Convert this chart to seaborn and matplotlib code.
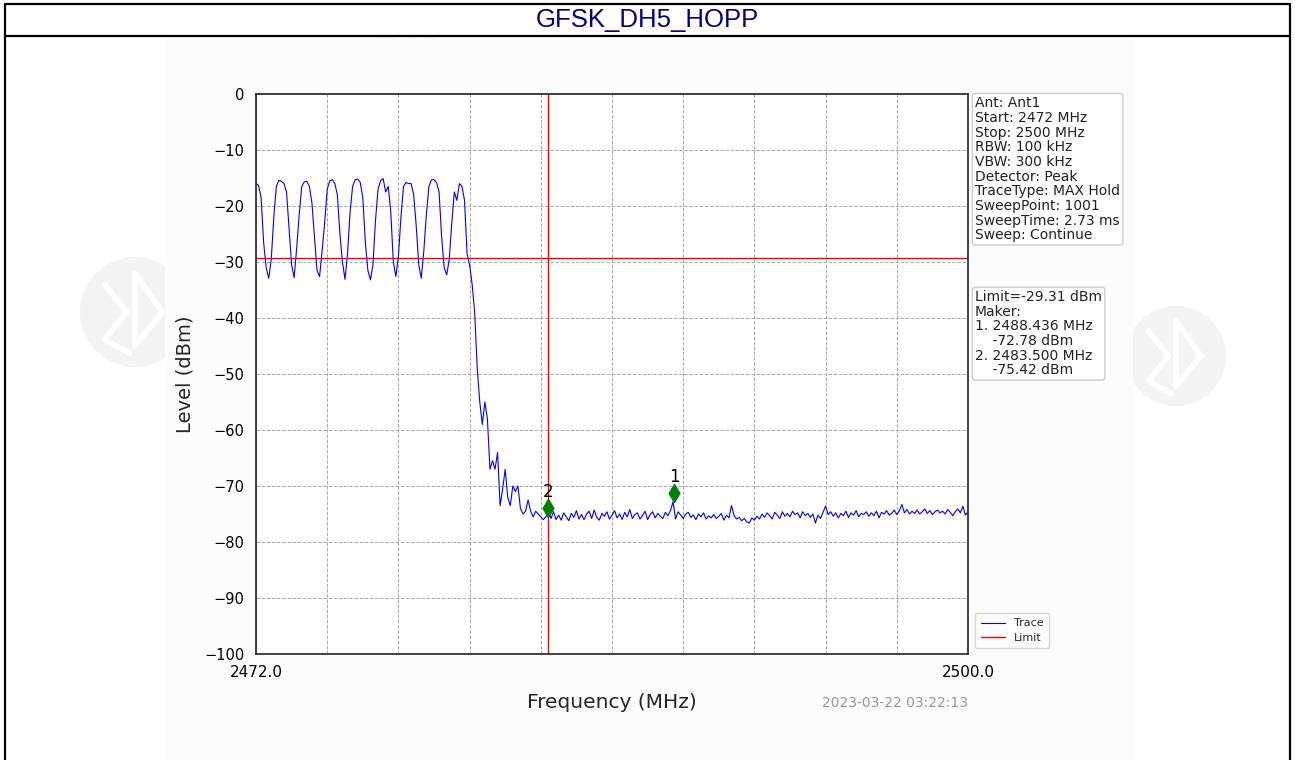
import numpy as np
import pandas as pd
import matplotlib
matplotlib.use('Agg')
import matplotlib.pyplot as plt
import seaborn as sns
from matplotlib.patches import Rectangle, Ellipse
from matplotlib.lines import Line2D

# sweep settings (from the info box)
START, STOP = 2472.0, 2500.0

# trace level (dBm), every 0.1 MHz
level = [
    # 2472.0 - 2480.2 : hopping channels
    -16.0, -16.3, -18.5, -26.5, -31.0, -32.9, -29.5, -22.0, -16.5, -15.4,
    -15.6, -16.0, -17.5, -24.0, -30.5, -32.8, -27.5, -21.5, -16.5, -15.7,
    -15.6, -16.5, -19.5, -25.5, -31.5, -32.6, -28.0, -23.0, -17.0, -15.5,
    -15.3, -16.0, -18.0, -25.0, -30.0, -33.1, -28.5, -21.0, -16.5, -15.3,
    -15.2, -15.8, -18.5, -26.5, -31.5, -33.2, -30.5, -22.5, -17.0, -15.5,
    -15.1, -17.5, -16.5, -21.0, -30.0, -32.6, -29.0, -22.0, -16.5, -15.8,
    -16.0, -16.0, -18.0, -23.5, -30.5, -32.9, -28.0, -21.5, -16.5, -15.3,
    -15.3, -15.8, -17.5, -25.5, -31.0, -32.3, -29.5, -23.0, -17.5, -19.0,
    -16.0, -16.5, -19.0,
    # 2480.3 - 2483.5 : band edge roll-off
    -28.5, -30.5, -34.0, -39.0, -49.0, -55.0, -59.0,
    -55.0, -58.0, -67.0, -65.5, -67.0, -64.0, -73.5, -70.5, -67.0, -72.0,
    -73.5, -70.0, -71.0, -70.0, -74.0, -75.0, -74.5, -72.5, -74.5, -75.5,
    -74.5, -75.0, -75.5, -76.0, -75.5, -74.5,
    # 2483.6 - 2500.0 : noise floor
    -75.8, -74.6, -76.0, -75.2,
    -76.1, -74.8, -75.5, -76.2, -74.9, -75.6, -74.4, -75.9, -75.1, -76.0,
    -75.0, -74.5, -75.8, -74.3, -75.6, -76.1, -74.9, -75.4, -74.6, -75.9,
    -75.2, -74.4, -75.7, -75.0, -76.0, -74.7, -75.5, -74.2, -75.8, -75.1,
    -74.8, -75.9, -75.3, -74.5, -76.0, -75.1, -74.6, -75.7, -74.9, -75.4,
    -75.8, -74.7, -75.3, -74.4, -72.8, -75.9, -74.6, -75.2, -75.8, -75.0,
    -74.7, -75.6, -75.2, -76.0, -75.0, -75.5, -74.8, -75.9, -75.3, -75.7,
    -75.1, -75.8, -75.4, -74.9, -76.1, -75.2, -75.7, -73.5, -75.3, -75.9,
    -75.6, -76.2, -75.8, -76.4, -76.6, -75.7, -76.1, -75.4, -75.9, -75.0,
    -75.6, -74.8, -75.3, -75.9, -74.7, -75.2, -75.8, -74.6, -75.4, -74.9,
    -75.5, -74.5, -75.1, -74.8, -75.7, -74.6, -75.3, -74.9, -75.6, -75.0,
    -76.6, -75.2, -75.8, -74.7, -73.6, -75.1, -74.6, -75.4, -74.8, -75.7,
    -74.9, -75.3, -74.5, -75.6, -74.8, -75.2, -74.4, -75.5, -74.9, -75.1,
    -74.6, -75.4, -74.8, -75.3, -74.5, -75.7, -74.7, -75.0, -74.4, -75.2,
    -74.9, -74.3, -75.1, -74.4, -73.3, -74.8, -74.2, -75.0, -74.5, -74.9,
    -74.3, -75.0, -74.6, -74.1, -74.9, -74.4, -75.1, -74.6, -74.3, -74.8,
    -74.5, -75.0, -74.2, -74.7, -75.3, -74.6, -74.1, -74.8, -73.6, -75.2,
    -74.6,
]
freq = np.linspace(START, STOP, len(level))

limit = -29.31
limit_freq = 2483.5

# markers, drawn where they sit on the picture
marker_name = ['1', '2']
marker_freq = [2488.436, 2483.500]
marker_level = [-71.2, -73.9]

info_text = ("Ant: Ant1\nStart: 2472 MHz\nStop: 2500 MHz\nRBW: 100 kHz\n"
             "VBW: 300 kHz\nDetector: Peak\nTraceType: MAX Hold\n"
             "SweepPoint: 1001\nSweepTime: 2.73 ms\nSweep: Continue")
marker_text = ("Limit=-29.31 dBm\nMaker:\n1. 2488.436 MHz\n    -72.78 dBm\n"
               "2. 2483.500 MHz\n    -75.42 dBm")
stamp = "2023-03-22 03:22:13"
title = "GFSK_DH5_HOPP"

sns.set_style("white")
plt.rcParams['font.family'] = ['DejaVu Sans']

W, H = 1295, 760
fig = plt.figure(figsize=(W / 100, H / 100), dpi=100)

# faint watermark logos behind the picture
for cx, cy, r in [(135, 312, 55), (1176, 356, 50), (405, 40, 30)]:
    fig.patches.append(Ellipse((cx / W, 1 - cy / H), 2 * r / W, 2 * r / H,
                               transform=fig.transFigure, fc='#f3f3f3',
                               ec='none', zorder=0))
    fig.lines.append(Line2D([(cx - r * 0.55) / W, (cx - r * 0.15) / W,
                             (cx - r * 0.55) / W, (cx - r * 0.1) / W],
                            [1 - (cy - r * 0.5) / H, 1 - cy / H,
                             1 - (cy + r * 0.5) / H, 1 - (cy + r * 0.75) / H],
                            transform=fig.transFigure, color='white', lw=4,
                            zorder=0.5))
    fig.lines.append(Line2D([cx / W, cx / W, (cx + r * 0.5) / W, cx / W],
                            [1 - (cy + r * 0.6) / H, 1 - (cy - r * 0.7) / H,
                             1 - cy / H, 1 - (cy + r * 0.6) / H],
                            transform=fig.transFigure, color='white', lw=4,
                            zorder=0.5))

# the plot picture area
fig.patches.append(Rectangle((165 / W, 0), (1133 - 165) / W, 1 - 38 / H,
                             transform=fig.transFigure, fc='#fcfcfc',
                             ec='none', zorder=1))
# header cell + frame
fig.patches.append(Rectangle((0, 1 - 36 / H), 1, 32 / H,
                             transform=fig.transFigure, fc='white',
                             ec='none', zorder=1))
for xs, ys in [([5, 1290], [4, 4]), ([5, 1290], [36, 36]),
               ([5, 5], [4, 760]), ([1290, 1290], [4, 760])]:
    fig.lines.append(Line2D([x / W for x in xs], [1 - y / H for y in ys],
                            transform=fig.transFigure, color='black',
                            lw=1.6, zorder=2))
fig.text(0.5, 1 - 20 / H, title, ha='center', va='center', color='#000080',
         fontsize=18.5, family='Liberation Sans', zorder=3)

ax = fig.add_axes([256 / W, 1 - 654 / H, (968 - 256) / W, (654 - 94) / H])
ax.set_zorder(5)

df = pd.DataFrame({'Frequency': freq, 'Level': level})
sns.lineplot(data=df, x='Frequency', y='Level', ax=ax, color='blue',
             lw=0.8, estimator=None, label='Trace')
ax.axhline(limit, color='red', lw=1.0, label='Limit')
ax.axvline(limit_freq, color='red', lw=1.0)

sns.scatterplot(x=marker_freq, y=marker_level, ax=ax, marker='d', s=90,
                color='green', edgecolor='green', zorder=4, legend=False)
for n, f, l in zip(marker_name, marker_freq, marker_level):
    ax.text(f, l + 2.8, n, ha='center', va='center', fontsize=12, color='black')

ax.set_xlim(START, STOP)
ax.set_ylim(-100, 0)
ax.set_xticks(np.linspace(START, STOP, 11))
ax.set_xticklabels(['2472.0'] + [''] * 9 + ['2500.0'])
ax.set_yticks(range(-100, 1, 10))
ax.grid(True, color='#aaaaaa', ls='--', lw=0.7)
ax.tick_params(axis='both', direction='out', length=5, width=1,
               color='#333333', labelsize=10.5, labelcolor='black')
ax.tick_params(axis='x', pad=3, labelsize=11)
for s in ax.spines.values():
    s.set_color('#333333')
    s.set_linewidth(1.3)
ax.set_facecolor('white')

ax.set_xlabel('Frequency (MHz)', fontsize=14.5)
ax.xaxis.label.set_va('center')
ax.xaxis.set_label_coords(0.5, -0.0875)
ax.set_ylabel('Level (dBm)', fontsize=14)
ax.yaxis.label.set_va('center')
ax.yaxis.set_label_coords(-0.0995, 0.5)

ax.text(1.0, -0.0875, stamp, transform=ax.transAxes, ha='right', va='center',
        fontsize=10, color='#999999')

box = dict(boxstyle='round,pad=0.2', fc='white', ec='#cccccc', lw=1)
ax.text(1.01, 0.996, info_text, transform=ax.transAxes, ha='left', va='top',
        fontsize=10, color='#222222', bbox=box, linespacing=1.06)
ax.text(1.01, 0.65, marker_text, transform=ax.transAxes, ha='left', va='top',
        fontsize=10, color='#222222', bbox=box, linespacing=1.06)

leg = ax.legend(loc='lower left', bbox_to_anchor=(1.002, 0.0), fontsize=8,
                frameon=True, handlelength=2.2, borderpad=0.5,
                labelspacing=0.4)
leg.get_frame().set_edgecolor('#cccccc')

fig.savefig('out.png', dpi=100)
